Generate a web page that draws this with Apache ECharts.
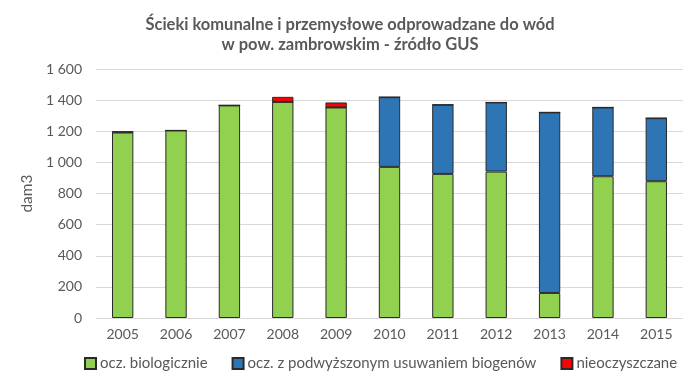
<!DOCTYPE html>
<html>
<head>
<meta charset="utf-8">
<script src="https://cdn.jsdelivr.net/npm/echarts@6/dist/echarts.min.js"></script>
<style>html,body{margin:0;padding:0;background:#fff}#c{width:700px;height:386px}</style>
</head>
<body>
<div id="c"></div>
<script>
const years = ['2005','2006','2007','2008','2009','2010','2011','2012','2013','2014','2015'];
const biologiczne = [1192, 1205, 1366, 1389, 1353, 971, 926, 941, 161, 911, 879];
const biogeny = [4, 0, 0, 0, 0, 448, 444, 444, 1160, 442, 405];
const nieoczyszczane = [0, 0, 0, 32, 32, 0, 0, 0, 0, 0, 0];
const seriesNames = ['ocz. biologicznie', 'ocz. z podwyższonym usuwaniem biogenów', 'nieoczyszczane'];
const yTicks = { min: 0, max: 1600, interval: 200 };

const FONT = 'Lato, "Open Sans", sans-serif';
const chart = echarts.init(document.getElementById('c'), null, { renderer: 'canvas' });
function mk(name, data, color) {
  return {
    name, type: 'bar', stack: 'a', data, barWidth: '40%',
    itemStyle: { color, borderColor: '#2a2a2a', borderWidth: 1 },
    emphasis: { disabled: true }
  };
}
chart.setOption({
  animation: false,
  backgroundColor: '#fff',
  title: {
    text: 'Ścieki komunalne i przemysłowe odprowadzane do wód\nw pow. zambrowskim - źródło GUS',
    left: 'center', top: 10,
    textStyle: { fontFamily: FONT, fontSize: 16.5, fontWeight: 'bold', color: '#595959', lineHeight: 20 }
  },
  grid: { left: 96, right: 17, top: 69, bottom: 68 },
  legend: {
    bottom: 10, left: 79, itemWidth: 11, itemHeight: 11, itemGap: 24,
    textStyle: { fontFamily: FONT, fontSize: 15, color: '#595959', padding: [0, 0, 0, -1] },
    data: seriesNames.map(n => ({ name: n, icon: 'rect' }))
  },
  xAxis: {
    type: 'category', data: years,
    axisLine: { show: false }, axisTick: { show: false },
    axisLabel: { fontFamily: FONT, fontSize: 14, color: '#595959', margin: 9 }
  },
  yAxis: {
    type: 'value', min: yTicks.min, max: yTicks.max, interval: yTicks.interval,
    name: 'dam3', nameLocation: 'middle', nameGap: 61,
    nameTextStyle: { fontFamily: FONT, fontSize: 15.5, color: '#595959' },
    axisLine: { show: false }, axisTick: { show: false },
    splitLine: { lineStyle: { color: '#d9d9d9' } },
    axisLabel: {
      fontFamily: FONT, fontSize: 14, color: '#595959', margin: 14,
      formatter: v => String(v).replace(/\B(?=(\d{3})+(?!\d))/g, ' ')
    }
  },
  series: [
    mk(seriesNames[0], biologiczne, '#92D050'),
    mk(seriesNames[1], biogeny, '#2E75B6'),
    mk(seriesNames[2], nieoczyszczane, '#FF0000')
  ]
});
</script>
</body>
</html>
